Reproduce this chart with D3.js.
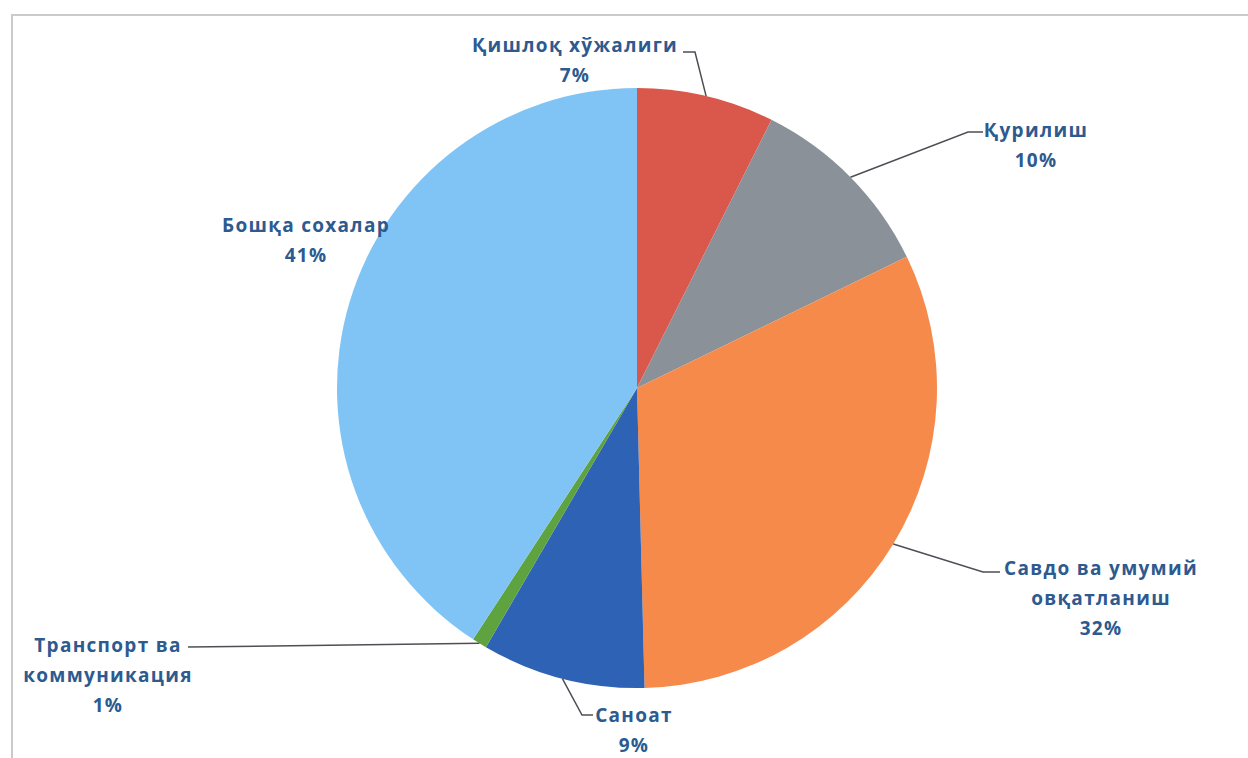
<!DOCTYPE html>
<html>
<head>
<meta charset="utf-8">
<script src="https://cdn.jsdelivr.net/npm/d3@7"></script>
<style>
  body { margin: 0; background: #fff; }
  svg { display: block; }
  .lbl { font-family: "Open Sans", sans-serif; font-weight: bold; font-size: 19px; letter-spacing: 1.3px; fill: #2d5a8f; }
</style>
</head>
<body>
<div id="chart"></div>
<script>
// sectors, clockwise from 12 o'clock
var categories = ['Қишлоқ хўжалиги', 'Қурилиш', 'Савдо ва умумий овқатланиш', 'Саноат', 'Транспорт ва коммуникация', 'Бошқа сохалар'];
var values = [7.4, 10.4, 31.8, 8.8, 0.8, 40.8];
var pctLabels = ['7%', '10%', '32%', '9%', '1%', '41%'];
var labelLines = [
  ['Қишлоқ хўжалиги', '7%'],
  ['Қурилиш', '10%'],
  ['Савдо ва умумий', 'овқатланиш', '32%'],
  ['Саноат', '9%'],
  ['Транспорт ва', 'коммуникация', '1%'],
  ['Бошқа сохалар', '41%']
];
var colors = ['#d9574b', '#8b9199', '#f68a4b', '#2e62b5', '#5ea33f', '#80c4f5'];

var W = 1248, H = 758;
var cx = 637, cy = 388, R = 300;

// label block centre + leader elbow (layout only)
var labelLayout = [
  {x: 575, y: 45, elbow: [[695, 52], [683, 52]]},
  {x: 1036, y: 130, elbow: [[968, 132], [983, 132]]},
  {x: 1101, y: 568, elbow: [[983, 572], [1000, 572]]},
  {x: 634, y: 715, elbow: [[582, 715], [593, 715]]},
  {x: 108, y: 645, elbow: [[188, 647]]},
  {x: 306, y: 225, elbow: null}
];

var svg = d3.select('#chart').append('svg')
  .attr('width', W).attr('height', H);

svg.append('rect').attr('width', W).attr('height', H).attr('fill', '#fff');

// chart frame (only top/left visible in the crop)
svg.append('path')
  .attr('d', 'M12,' + H + 'V15H' + W)
  .attr('fill', 'none').attr('stroke', '#c9c9ce').attr('stroke-width', 2);

var pie = d3.pie().sort(null).value(function(d) { return d; });
var arcs = pie(values);
var arc = d3.arc().innerRadius(0).outerRadius(R);

var g = svg.append('g').attr('transform', 'translate(' + cx + ',' + cy + ')');

g.selectAll('path.slice')
  .data(arcs)
  .enter().append('path')
  .attr('class', 'slice')
  .attr('d', arc)
  .attr('fill', function(d, i) { return colors[i]; });

// leader lines from the arc midpoint
var edge = d3.arc().innerRadius(R).outerRadius(R);
labelLayout.forEach(function(l, i) {
  if (!l.elbow) return;
  var c = edge.centroid(arcs[i]);
  var pts = [[c[0] + cx, c[1] + cy]].concat(l.elbow);
  svg.append('path')
    .attr('d', d3.line()(pts))
    .attr('fill', 'none')
    .attr('stroke', '#4d4f55')
    .attr('stroke-width', 1.5);
});

// labels
labelLayout.forEach(function(l, i) {
  var t = svg.append('text')
    .attr('class', 'lbl')
    .attr('text-anchor', 'middle')
    .attr('x', l.x).attr('y', l.y);
  labelLines[i].forEach(function(s, k) {
    t.append('tspan')
      .attr('x', l.x)
      .attr('y', l.y + k * 30)
      .attr('dy', '0.35em')
      .text(s);
  });
});
</script>
</body>
</html>
